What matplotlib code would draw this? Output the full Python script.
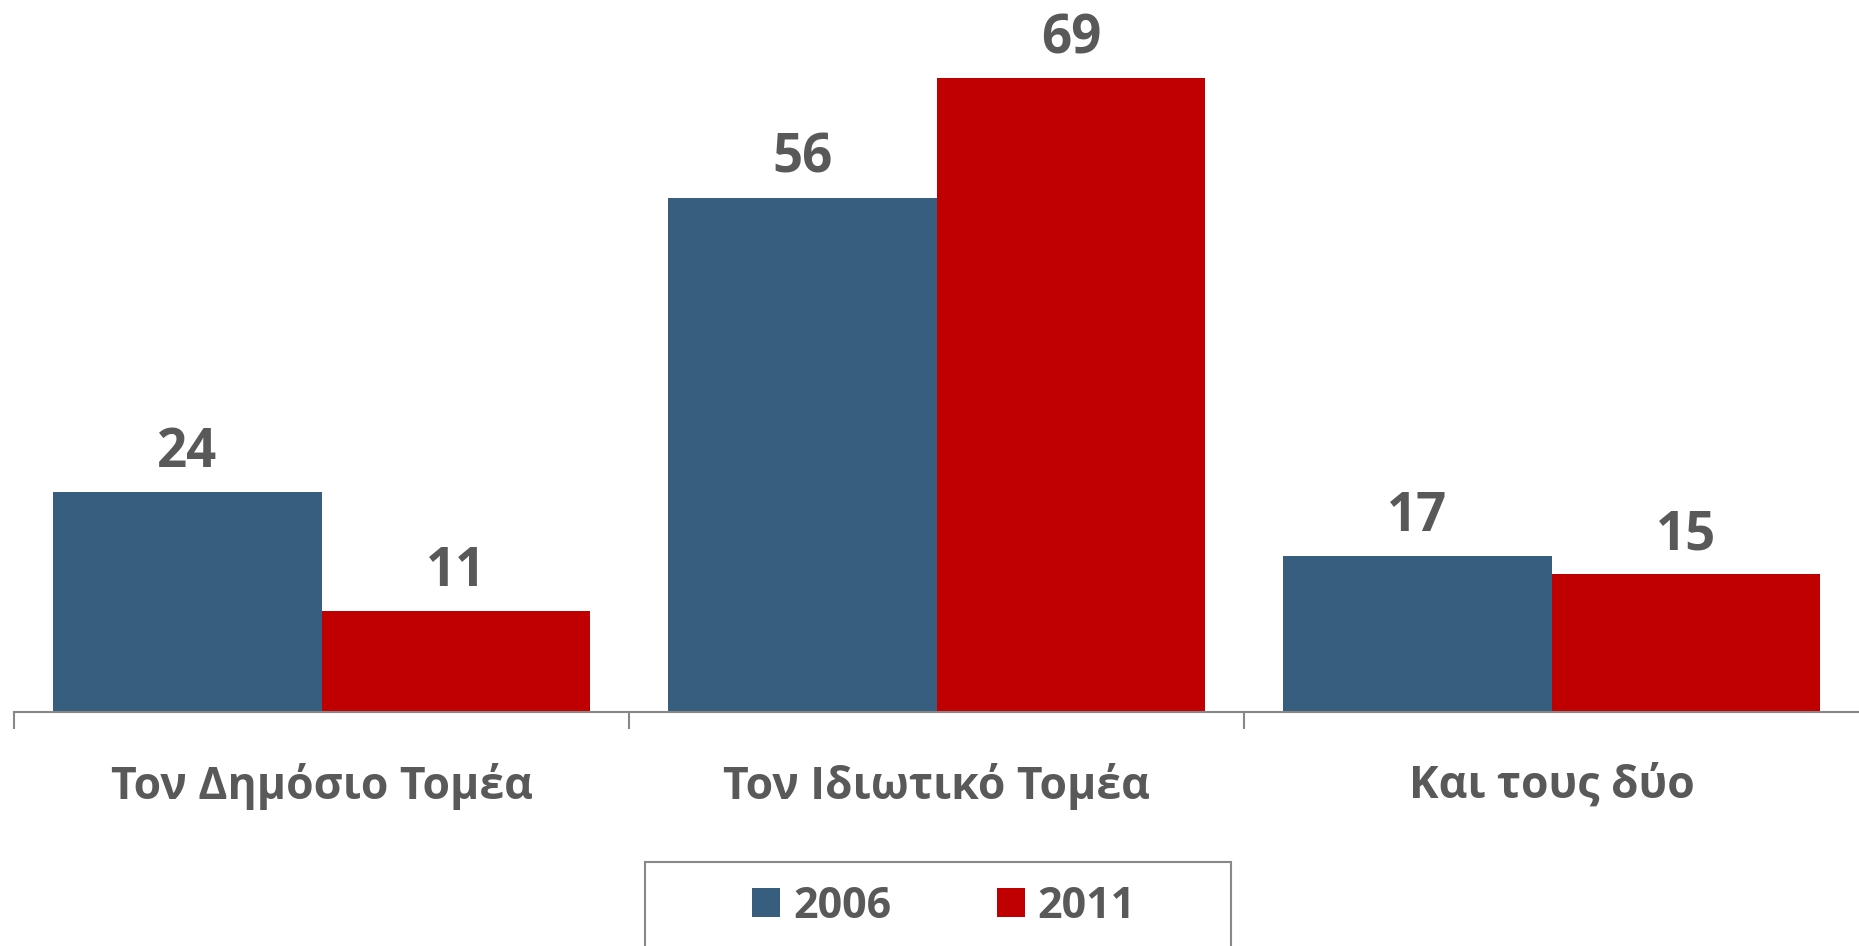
import matplotlib
matplotlib.use("Agg")
import matplotlib.pyplot as plt
from matplotlib.patches import Rectangle
import numpy as np

categories = ["Τον Δημόσιο Τομέα", "Τον Ιδιωτικό Τομέα", "Και τους δύο"]
series_names = ["2006", "2011"]
values_2006 = [24, 56, 17]
values_2011 = [11, 69, 15]

blue = "#375E7F"
red = "#C00000"
text_gray = "#595959"

plt.rcParams['font.family'] = ['Open Sans', 'DejaVu Sans']
plt.rcParams['font.weight'] = 'bold'

fig = plt.figure(figsize=(18.59, 9.46), dpi=100)
ax = fig.add_axes([14 / 1859, 234 / 946, 1 - 14 / 1859, 712 / 946])

x = np.arange(len(categories))
w = 0.437
b1 = ax.bar(x - w / 2, values_2006, w, color=blue, label=series_names[0])
b2 = ax.bar(x + w / 2, values_2011, w, color=red, label=series_names[1])

# value labels above the bars
for bars in (b1, b2):
    for r in bars:
        ax.annotate(str(int(r.get_height())),
                    (r.get_x() + r.get_width() / 2, r.get_height()),
                    xytext=(0, 18), textcoords="offset points",
                    ha="center", va="baseline", fontsize=38,
                    fontweight="bold", color=text_gray)

ax.set_xlim(-0.5, 2.5)
ax.set_ylim(0, 77.5)
ax.set_xticks(x)
ax.set_xticklabels(categories, fontsize=32, fontweight="bold", color=text_gray)
ax.tick_params(axis="x", which="major", length=0, pad=37)
ax.set_xticks([-0.5, 0.5, 1.5], minor=True)
ax.tick_params(axis="x", which="minor", length=12, width=1.5, color="#888888", direction="out")
ax.set_yticks([])
for s in ("left", "right", "top"):
    ax.spines[s].set_visible(False)
ax.spines["bottom"].set_color("#888888")
ax.spines["bottom"].set_linewidth(1.5)

# legend frame, cut off at the bottom of the figure
fig.patches.append(Rectangle((645 / 1859, -0.05), 586 / 1859, 0.05 + 84 / 946,
                             transform=fig.transFigure, fill=False,
                             edgecolor="#888888", linewidth=1.5))
leg = fig.legend(handles=[b1, b2], loc="center", bbox_to_anchor=(944 / 1859, 40 / 946),
                 ncol=2, frameon=False, fontsize=31, handlelength=0.65, handleheight=0.65,
                 columnspacing=2.45, handletextpad=0.3)
for t in leg.get_texts():
    t.set_color(text_gray)
    t.set_fontweight("bold")

fig.savefig("out.png", dpi=100)
